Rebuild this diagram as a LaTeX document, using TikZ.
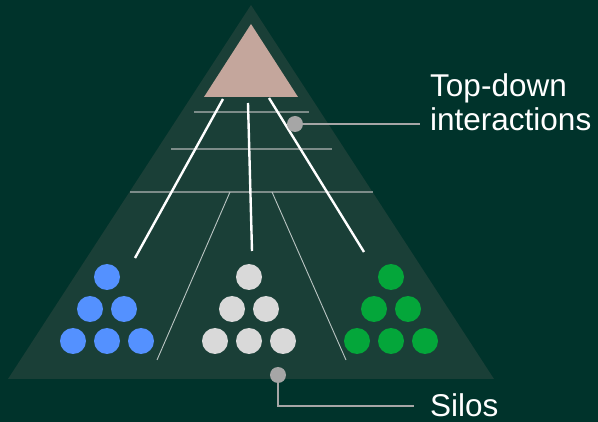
\documentclass[tikz,border=0pt]{standalone}
\usepackage{fontspec}
\setmainfont{Liberation Sans}
\begin{document}
\begin{tikzpicture}[x=1pt,y=-1pt,
  thickw/.style={draw=white,line width=2.4pt},
  hline/.style={draw=white!75!black!60!bgtri,line width=1.4pt},
  thinw/.style={draw=white!70!bgtri,line width=0.9pt},
  dot/.style={circle,inner sep=0pt,minimum size=26pt,fill=#1},
  calldot/.style={circle,inner sep=0pt,minimum size=16pt,fill=callg},
  callline/.style={draw=callg,line width=1.3pt},
  lbl/.style={text=white,font=\fontsize{31.5}{34}\selectfont,inner sep=0pt}]
\definecolor{bg}{HTML}{00332B}
\definecolor{bgtri}{HTML}{1A3F37}
\definecolor{pink}{HTML}{C4A69C}
\definecolor{blu}{HTML}{5491FF}
\definecolor{gry}{HTML}{D9D9D9}
\definecolor{grn}{HTML}{04A63A}
\definecolor{callg}{HTML}{A6A6A6}
\fill[bg] (0,0) rectangle (598,422);
\useasboundingbox (0,0) rectangle (598,422);
% big triangle
\fill[bgtri] (251,5) -- (8,379) -- (494,379) -- cycle;
% pink top triangle
\fill[pink] (251,24) -- (204,97) -- (298,97) -- cycle;
% horizontal lines
\coordinate (h1a) at (194,112); \coordinate (h1b) at (309,112);
\coordinate (h2a) at (171,149); \coordinate (h2b) at (332,149);
\coordinate (h3a) at (130,192); \coordinate (h3b) at (373,192);
\draw[hline] (h1a) -- (h1b);
\draw[hline] (h2a) -- (h2b);
\draw[hline] (h3a) -- (h3b);
% thin diagonals
\coordinate (t1a) at (230,192); \coordinate (t1b) at (157,360);
\coordinate (t2a) at (272,192); \coordinate (t2b) at (346,360);
\draw[thinw] (t1a) -- (t1b);
\draw[thinw] (t2a) -- (t2b);
% thick white lines
\coordinate (w1a) at (223,99); \coordinate (w1b) at (135,258);
\coordinate (w2a) at (248,103); \coordinate (w2b) at (252,251);
\coordinate (w3a) at (269,98); \coordinate (w3b) at (364,252);
\draw[thickw] (w1a) -- (w1b);
\draw[thickw] (w2a) -- (w2b);
\draw[thickw] (w3a) -- (w3b);
% dot groups
\foreach \cx/\col/\nm in {107/blu/b,249/gry/g,391/grn/n}{
  \node[dot=\col] (\nm1) at (\cx,277) {};
  \node[dot=\col] (\nm2) at (\cx-17,309) {};
  \node[dot=\col] (\nm3) at (\cx+17,309) {};
  \node[dot=\col] (\nm4) at (\cx-34,341) {};
  \node[dot=\col] (\nm5) at (\cx,341) {};
  \node[dot=\col] (\nm6) at (\cx+34,341) {};
}
% callouts
\node[calldot] (cd1) at (295,124) {};
\node[lbl,anchor=base west] (top) at (430,97) {Top-down};
\node[lbl,anchor=base west] (inter) at (430,131) {interactions};
\coordinate (ce1) at (420,124);
\draw[callline] (cd1) -- (ce1);
\node[calldot] (cd2) at (278,375) {};
\coordinate (cc2) at (278,406);
\coordinate (ce2) at (414,406);
\node[lbl,anchor=base west,text depth=0pt] (silos) at (430,417) {Silos};
\draw[callline] (cd2) -- (cc2) -- (ce2);
\end{tikzpicture}
\end{document}
